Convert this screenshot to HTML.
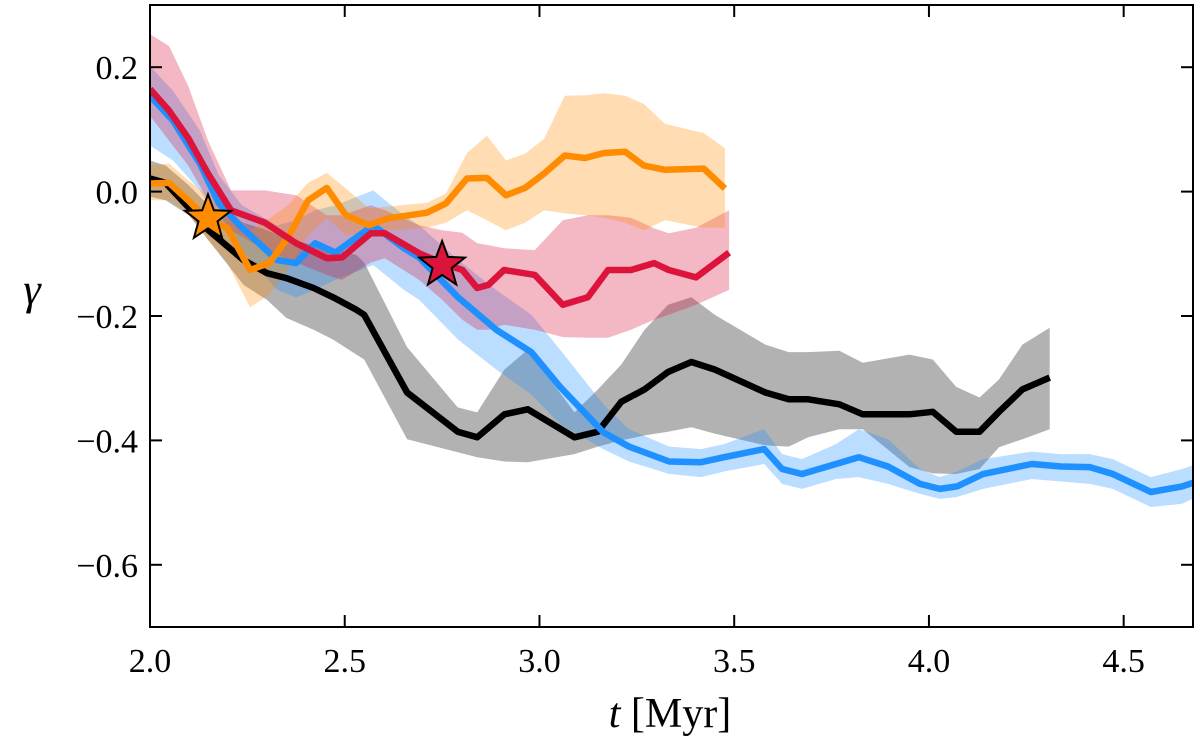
<!DOCTYPE html>
<html><head><meta charset="utf-8"><style>
html,body{margin:0;padding:0;background:#fff;}
svg text{font-family:"Liberation Serif","DejaVu Serif",serif;fill:#000;}
</style></head><body>
<svg id="chart" width="1200" height="746" viewBox="0 0 1200 746" xmlns="http://www.w3.org/2000/svg">
<defs><clipPath id="plotclip"><rect x="150" y="5" width="1043" height="622"/></clipPath></defs>
<g id="bands" clip-path="url(#plotclip)"></g>
<g id="lines" clip-path="url(#plotclip)"></g>
<g id="markers"></g>
<rect x="150" y="5" width="1043" height="622" fill="none" stroke="#000" stroke-width="2"/>
<g id="axes"></g>
<text x="670" y="727" font-size="42" text-anchor="middle"><tspan font-style="italic">t</tspan> [Myr]</text>
<text x="32" y="304" font-size="44" font-style="italic" text-anchor="middle">γ</text>
</svg>
<script>
const xTicks=[2.0,2.5,3.0,3.5,4.0,4.5];
const xTickLabels=["2.0","2.5","3.0","3.5","4.0","4.5"];
const yTicks=[0.2,0.0,-0.2,-0.4,-0.6];
const yTickLabels=["0.2","0.0","\u22120.2","\u22120.4","\u22120.6"];

const blackT=[2.00,2.04,2.10,2.15,2.24,2.30,2.35,2.42,2.47,2.53,2.55,2.66,2.79,2.84,2.91,2.97,3.09,3.15,3.21,3.27,3.33,3.39,3.45,3.58,3.64,3.69,3.77,3.83,3.95,4.01,4.07,4.13,4.18,4.24,4.31];
const blackMid=[.021,.014,-.026,-.062,-.110,-.131,-.139,-.155,-.170,-.190,-.198,-.323,-.386,-.395,-.358,-.350,-.395,-.386,-.338,-.318,-.290,-.274,-.286,-.323,-.334,-.334,-.342,-.358,-.358,-.354,-.386,-.386,-.354,-.318,-.299];
const blackHi=[.050,.042,.010,-.022,-.050,-.062,-.075,-.086,-.091,-.102,-.114,-.250,-.347,-.355,-.286,-.254,-.355,-.318,-.278,-.222,-.182,-.170,-.198,-.246,-.258,-.258,-.256,-.275,-.262,-.270,-.314,-.331,-.302,-.246,-.219];
const blackLo=[-.008,-.014,-.038,-.078,-.150,-.174,-.203,-.222,-.238,-.262,-.270,-.398,-.419,-.427,-.434,-.435,-.422,-.410,-.400,-.392,-.386,-.379,-.389,-.408,-.410,-.395,-.382,-.382,-.443,-.453,-.454,-.446,-.411,-.398,-.382];

const blueT=[2.000,2.059,2.128,2.177,2.236,2.326,2.375,2.424,2.476,2.573,2.652,2.691,2.791,2.889,2.979,3.053,3.164,3.230,3.333,3.415,3.474,3.577,3.623,3.674,3.761,3.820,3.895,3.977,4.028,4.072,4.139,4.264,4.339,4.413,4.472,4.570,4.650,4.688];
const blueMid=[.154,.114,.045,-.019,-.058,-.110,-.115,-.083,-.098,-.054,-.091,-.106,-.170,-.222,-.258,-.314,-.387,-.410,-.434,-.435,-.427,-.414,-.446,-.454,-.438,-.427,-.442,-.470,-.478,-.474,-.454,-.438,-.442,-.443,-.454,-.483,-.474,-.466];
const blueHi=[.202,.162,.098,.026,-.022,-.054,-.046,-.030,-.022,.002,-.038,-.054,-.110,-.158,-.198,-.254,-.342,-.382,-.410,-.414,-.406,-.382,-.422,-.430,-.406,-.382,-.398,-.446,-.459,-.450,-.430,-.418,-.422,-.422,-.430,-.459,-.446,-.438];
const blueLo=[.074,.050,.002,-.046,-.094,-.158,-.170,-.158,-.142,-.118,-.158,-.174,-.238,-.286,-.326,-.374,-.414,-.434,-.454,-.459,-.450,-.438,-.470,-.478,-.462,-.459,-.470,-.486,-.494,-.491,-.478,-.462,-.466,-.470,-.478,-.507,-.502,-.491];

const redT=[2.000,2.049,2.098,2.149,2.208,2.295,2.375,2.454,2.493,2.567,2.603,2.691,2.750,2.802,2.840,2.869,2.909,2.988,3.060,3.124,3.176,3.235,3.294,3.332,3.402,3.487];
const redMid=[.165,.130,.086,.029,-.030,-.050,-.083,-.107,-.106,-.067,-.067,-.099,-.115,-.126,-.155,-.150,-.126,-.134,-.182,-.170,-.126,-.126,-.115,-.126,-.138,-.098];
const redHi=[.253,.234,.170,.082,.002,.002,-.006,-.038,-.038,-.022,-.030,-.054,-.062,-.066,-.083,-.086,-.091,-.094,-.046,-.038,-.038,-.042,-.059,-.067,-.058,-.030];
const redLo=[.122,.082,.042,-.014,-.062,-.094,-.114,-.134,-.142,-.114,-.107,-.142,-.174,-.206,-.222,-.222,-.214,-.222,-.234,-.235,-.235,-.222,-.206,-.198,-.182,-.158];

const orangeT=[2.000,2.049,2.098,2.149,2.198,2.257,2.306,2.354,2.406,2.454,2.503,2.562,2.611,2.711,2.760,2.814,2.865,2.914,2.963,3.012,3.065,3.117,3.166,3.220,3.268,3.322,3.422,3.476];
const orangeMid=[.013,.014,-.014,-.046,-.058,-.126,-.115,-.074,-.014,.006,-.038,-.054,-.043,-.034,-.019,.021,.022,-.006,.006,.029,.058,.054,.062,.064,.042,.035,.037,.005];
const orangeHi=[.042,.045,.018,-.006,-.022,-.062,-.043,-.022,.014,.030,.005,-.027,-.024,-.018,-.003,.062,.090,.050,.061,.085,.154,.155,.158,.154,.141,.109,.094,.070];
const orangeLo=[-.014,-.014,-.034,-.078,-.114,-.186,-.166,-.126,-.070,-.043,-.070,-.066,-.062,-.058,-.050,-.030,-.046,-.062,-.050,-.030,-.035,-.038,-.042,-.050,-.062,-.046,-.058,-.058];

const starT=[2.149,2.750];
const starG=[-0.043,-0.118];

const X0=150,X1=1193,Y0=5,Y1=627,XMIN=2.0,XMAX=4.678,YMIN=-0.7,YMAX=0.3;
function sx(t){return X0+(t-XMIN)/(XMAX-XMIN)*(X1-X0);}
function sy(g){return Y1-(g-YMIN)/(YMAX-YMIN)*(Y1-Y0);}
const NS="http://www.w3.org/2000/svg";
function mk(tag,parent){const e=document.createElementNS(NS,tag);parent.appendChild(e);return e;}
const bands=document.getElementById('bands'),lines=document.getElementById('lines'),markers=document.getElementById('markers'),axes=document.getElementById('axes');

function band(T,Hi,Lo,color,alpha,name){
  let pts=[];
  for(let i=0;i<T.length;i++)pts.push(sx(T[i]).toFixed(1)+','+sy(Hi[i]).toFixed(1));
  for(let i=T.length-1;i>=0;i--)pts.push(sx(T[i]).toFixed(1)+','+sy(Lo[i]).toFixed(1));
  const p=mk('polygon',bands);
  p.setAttribute('points',pts.join(' '));
  p.setAttribute('fill',color);p.setAttribute('fill-opacity',alpha);
  
  
}
function line(T,M,color,name){
  const p=mk('polyline',lines);
  p.setAttribute('points',T.map((t,i)=>sx(t).toFixed(1)+','+sy(M[i]).toFixed(1)).join(' '));
  p.setAttribute('fill','none');p.setAttribute('stroke',color);p.setAttribute('stroke-width','6.5');
  p.setAttribute('stroke-linejoin','round');
  
  
}
band(blackT,blackHi,blackLo,'#000',0.3,'black-band');
band(blueT,blueHi,blueLo,'#1e90ff',0.3,'blue-band');
band(redT,redHi,redLo,'#dc143c',0.3,'red-band');
band(orangeT,orangeHi,orangeLo,'#ff8c00',0.3,'orange-band');
line(blackT,blackMid,'#000','black-line');
line(blueT,blueMid,'#1e90ff','blue-line');
line(orangeT,orangeMid,'#ff8c00','orange-line');
line(redT,redMid,'#dc143c','red-line');

const starColors=['#ff8c00','#dc143c'];
for(let k=0;k<starT.length;k++){
  const cx=sx(starT[k]),cy=sy(starG[k]),R=24,r=10;let pts=[];
  for(let i=0;i<10;i++){const a=-Math.PI/2+i*Math.PI/5,rr=i%2?r:R;pts.push((cx+rr*Math.cos(a)).toFixed(1)+','+(cy+rr*Math.sin(a)).toFixed(1));}
  const s=mk('polygon',markers);
  s.setAttribute('points',pts.join(' '));s.setAttribute('fill',starColors[k]);s.setAttribute('stroke','#000');s.setAttribute('stroke-width','2');
  
  
}

xTicks.forEach((t,i)=>{
  const x=sx(t);
  const a=mk('line',axes);a.setAttribute('x1',x);a.setAttribute('x2',x);a.setAttribute('y1',Y1);a.setAttribute('y2',Y1-12);a.setAttribute('stroke','#000');a.setAttribute('stroke-width','2');
  
  
  const b=mk('line',axes);b.setAttribute('x1',x);b.setAttribute('x2',x);b.setAttribute('y1',Y0);b.setAttribute('y2',Y0+12);b.setAttribute('stroke','#000');b.setAttribute('stroke-width','2');
  
  
  const tx=mk('text',axes);tx.setAttribute('x',x);tx.setAttribute('y',672);tx.setAttribute('font-size','34');tx.setAttribute('text-anchor','middle');tx.textContent=xTickLabels[i];
  
  
});
yTicks.forEach((g,i)=>{
  const y=sy(g);
  const a=mk('line',axes);a.setAttribute('x1',X0);a.setAttribute('x2',X0+12);a.setAttribute('y1',y);a.setAttribute('y2',y);a.setAttribute('stroke','#000');a.setAttribute('stroke-width','2');
  
  
  const b=mk('line',axes);b.setAttribute('x1',X1-12);b.setAttribute('x2',X1);b.setAttribute('y1',y);b.setAttribute('y2',y);b.setAttribute('stroke','#000');b.setAttribute('stroke-width','2');
  
  
  const tx=mk('text',axes);tx.setAttribute('x',138);tx.setAttribute('y',y+12);tx.setAttribute('font-size','34');tx.setAttribute('text-anchor','end');tx.textContent=yTickLabels[i];
  
  
});
</script>
</body></html>
